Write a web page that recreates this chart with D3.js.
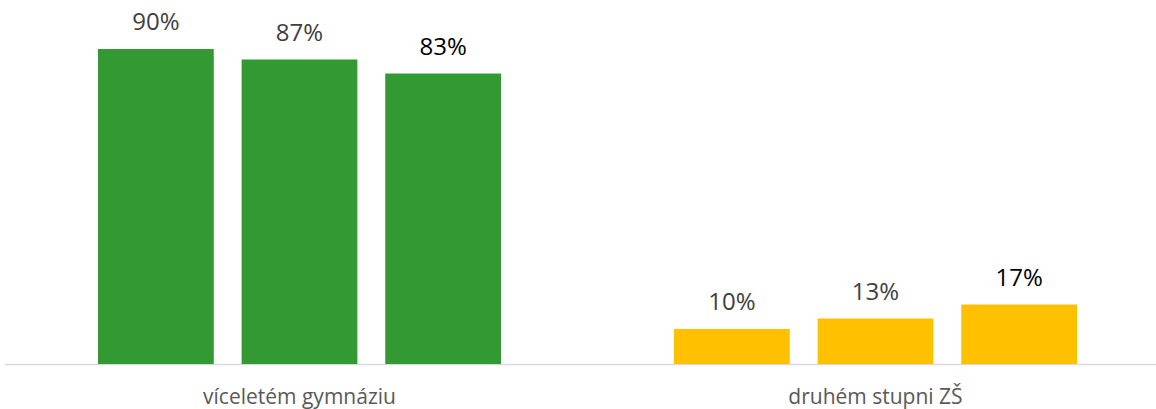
<!DOCTYPE html>
<html>
<head>
<meta charset="utf-8">
<script src="https://cdn.jsdelivr.net/npm/d3@7"></script>
<style>
  body { margin: 0; background: #fff; }
  text { font-family: "Open Sans", sans-serif; }
</style>
</head>
<body>
<svg id="chart" width="1156" height="409"></svg>
<script>
const categories = ['víceletém gymnáziu', 'druhém stupni ZŠ'];
const series = ['a', 'b', 'c'];
const values = [
  [90, 87, 83],
  [10, 13, 17]
];
const colors = ['#339933', '#FFC000'];
const labelColors = ['#404040', '#404040', '#000000'];

const svg = d3.select('#chart');
const baseY = 364;

const x0 = d3.scaleBand()
  .domain(categories)
  .range([11.5, 1163.5]);

const x1 = d3.scaleBand()
  .domain(series)
  .range([86.5, 489.5])
  .paddingInner(0.194);

const y = d3.scaleLinear()
  .domain([0, 100])
  .range([baseY, 14]);

// baseline
svg.append('line')
  .attr('x1', 5)
  .attr('x2', 1156)
  .attr('y1', baseY + 0.5)
  .attr('y2', baseY + 0.5)
  .attr('stroke', '#d9d9d9')
  .attr('stroke-width', 1.5);

const groups = svg.selectAll('g.group')
  .data(categories)
  .enter().append('g')
    .attr('class', 'group')
    .attr('transform', d => 'translate(' + x0(d) + ',0)');

groups.each(function (cat, ci) {
  const g = d3.select(this);
  const rows = series.map((s, si) => ({ s: s, si: si, v: values[ci][si] }));

  g.selectAll('rect')
    .data(rows)
    .enter().append('rect')
      .attr('x', d => x1(d.s))
      .attr('y', d => y(d.v))
      .attr('width', x1.bandwidth())
      .attr('height', d => baseY - y(d.v))
      .attr('fill', colors[ci]);

  g.selectAll('text.val')
    .data(rows)
    .enter().append('text')
      .attr('class', 'val')
      .attr('x', d => x1(d.s) + x1.bandwidth() / 2)
      .attr('y', d => y(d.v) - 19)
      .attr('text-anchor', 'middle')
      .attr('font-size', 24)
      .attr('fill', d => labelColors[d.si])
      .text(d => d.v + '%');
});

// category labels
svg.selectAll('text.cat')
  .data(categories)
  .enter().append('text')
    .attr('class', 'cat')
    .attr('x', d => x0(d) + x0.bandwidth() / 2)
    .attr('y', 404)
    .attr('text-anchor', 'middle')
    .attr('font-size', 21)
    .attr('fill', '#595959')
    .text(d => d);
</script>
</body>
</html>
